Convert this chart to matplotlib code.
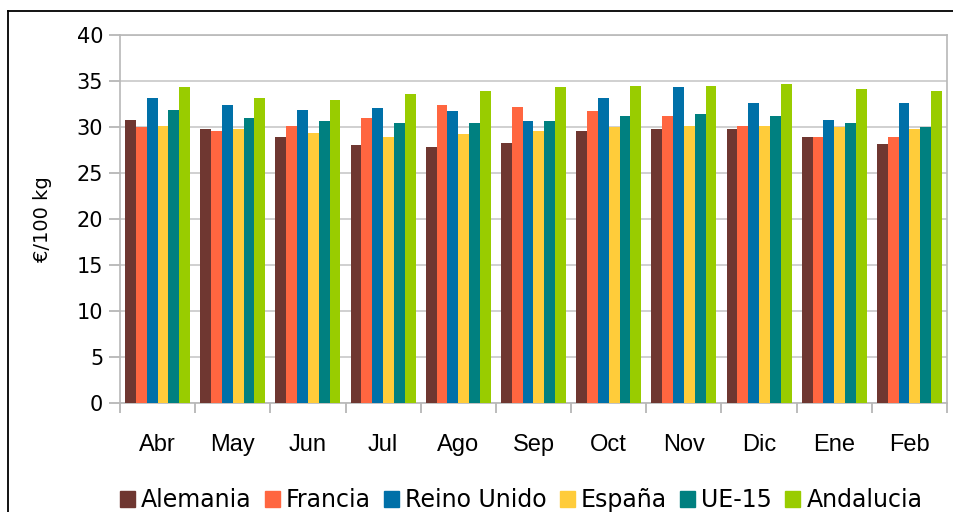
import numpy as np
import matplotlib
matplotlib.use('Agg')
import matplotlib.pyplot as plt
from matplotlib.lines import Line2D

# Data
months = ['Abr', 'May', 'Jun', 'Jul', 'Ago', 'Sep', 'Oct', 'Nov', 'Dic', 'Ene', 'Feb']
alemania = [30.8, 29.8, 28.9, 28.0, 27.8, 28.3, 29.6, 29.8, 29.8, 28.9, 28.2]
francia = [30.0, 29.6, 30.1, 31.0, 32.4, 32.2, 31.7, 31.2, 30.1, 28.9, 28.9]
reino_unido = [33.1, 32.4, 31.9, 32.1, 31.7, 30.6, 33.1, 34.3, 32.6, 30.8, 32.6]
espana = [30.1, 29.8, 29.4, 28.9, 29.2, 29.6, 30.0, 30.1, 30.1, 30.0, 29.8]
ue15 = [31.9, 31.0, 30.6, 30.4, 30.4, 30.6, 31.2, 31.4, 31.2, 30.4, 30.0]
andalucia = [34.3, 33.1, 32.9, 33.6, 33.9, 34.3, 34.5, 34.5, 34.7, 34.1, 33.9]

series = [
    ('Alemania', alemania, '#6F3731'),
    ('Francia', francia, '#FF6640'),
    ('Reino Unido', reino_unido, '#0070A8'),
    ('España', espana, '#FFCC3A'),
    ('UE-15', ue15, '#008080'),
    ('Andalucia', andalucia, '#99CC00'),
]

W, H = 954, 512
fig = plt.figure(figsize=(W / 100, H / 100), dpi=100)
ax = fig.add_axes([120 / W, 1 - 403 / H, 827 / W, 368 / H])

x = np.arange(len(months))
bar_w = 0.144
for i, (name, vals, col) in enumerate(series):
    ax.bar(x + (i - 2.5) * bar_w, vals, width=bar_w, color=col, label=name, zorder=3)

ax.set_xlim(-0.5, len(months) - 0.5)
ax.set_ylim(0, 40)
ax.set_yticks(range(0, 41, 5))
ax.yaxis.grid(True, color='#c8c8c8', linewidth=1.2, zorder=0)

# category ticks at group boundaries, labels at the centres
ax.set_xticks(np.arange(-0.5, len(months), 1))
ax.set_xticklabels([])
ax.set_xticks(x, minor=True)
ax.set_xticklabels(months, minor=True, fontsize=17, family='Liberation Sans')
ax.tick_params(axis='x', which='major', length=7, color='#b0b0b0', width=1.2)
ax.tick_params(axis='x', which='minor', length=0, pad=22)
ax.tick_params(axis='y', length=8, color='#b0b0b0', width=1.2, labelsize=15, pad=4)
for s in ax.spines.values():
    s.set_color('#b8b8b8')
    s.set_linewidth(1.2)
ax.set_ylabel('€/100 kg', fontsize=14, labelpad=18)

handles = [plt.Rectangle((0, 0), 1, 1, color=c) for _, _, c in series]
fig.legend(handles, [n for n, _, _ in series], loc='center', ncol=6,
           bbox_to_anchor=(521 / W, 1 - 500 / H), frameon=False, fontsize=17,
           handlelength=0.65, handleheight=0.65, handletextpad=0.25, columnspacing=0.55)

# outer frame (top and left edges visible in the crop)
fig.add_artist(Line2D([8 / W, 1], [1 - 10.5 / H, 1 - 10.5 / H], color='black', linewidth=1.3))
fig.add_artist(Line2D([8 / W, 8 / W], [0, 1 - 10.5 / H], color='black', linewidth=1.3))

fig.savefig('out.png', dpi=100)
